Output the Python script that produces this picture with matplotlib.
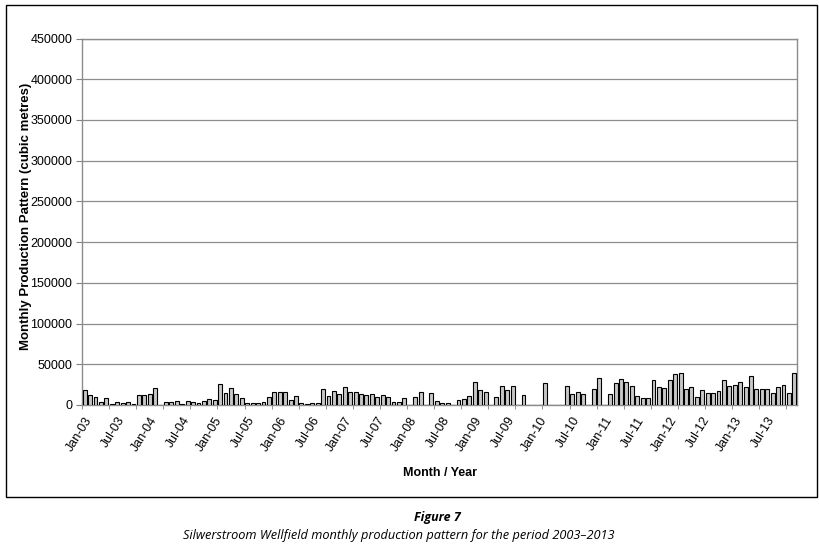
import matplotlib
matplotlib.use('Agg')
import matplotlib.pyplot as plt
import numpy as np
from matplotlib.patches import Rectangle

# monthly production, Jan-03 .. Dec-13 (one row per year)
production = [
    18000, 11700, 9700, 3600, 8900, 1200, 4000, 2000, 4000, 1200, 12000, 12000,   # 2003
    13700, 20500, 0, 4000, 4000, 4400, 1600, 4800, 3200, 2400, 4800, 7200,         # 2004
    6400, 25800, 14900, 21000, 14100, 8000, 2800, 2800, 2800, 4000, 9300, 15700,   # 2005
    15700, 16500, 6400, 10500, 2800, 1600, 2800, 2800, 19700, 10900, 16900, 14100, # 2006
    21800, 16500, 15700, 13700, 12100, 12900, 9700, 12100, 9700, 3600, 3600, 8900, # 2007
    0, 10100, 15700, 0, 14900, 4800, 2400, 2800, 400, 5600, 7200, 10900,           # 2008
    27800, 18100, 16100, 0, 9700, 23800, 18900, 23400, 0, 11700, 0, 0,             # 2009
    0, 27000, 0, 0, 0, 23000, 13700, 16100, 14100, 0, 20200, 33500,                # 2010
    0, 12900, 26600, 31400, 27800, 23800, 10900, 8900, 8900, 30200, 21800, 21000,  # 2011
    30600, 37900, 39100, 19700, 22200, 9700, 18500, 15300, 15300, 17700, 31000, 23800,  # 2012
    25000, 28600, 21800, 35500, 19700, 20200, 20200, 14500, 22200, 24200, 15300, 39500, # 2013
]

tick_labels = ['Jan-03', 'Jul-03', 'Jan-04', 'Jul-04', 'Jan-05', 'Jul-05',
               'Jan-06', 'Jul-06', 'Jan-07', 'Jul-07', 'Jan-08', 'Jul-08',
               'Jan-09', 'Jul-09', 'Jan-10', 'Jul-10', 'Jan-11', 'Jul-11',
               'Jan-12', 'Jul-12', 'Jan-13', 'Jul-13']

plt.rcParams['font.family'] = ['Liberation Sans', 'DejaVu Sans']

fig = plt.figure(figsize=(8.2, 5.47), dpi=100)

# frame around the chart
fig.patches.append(Rectangle((0.0073, 0.0914), 0.989, 0.8995, transform=fig.transFigure,
                             fill=False, edgecolor='black', linewidth=1.0))

ax = fig.add_axes([0.1, 0.2596, 0.872, 0.67])
x = np.arange(len(production))
ax.bar(x, production, width=0.72, color='#c8c8c8', edgecolor='black', linewidth=0.8, zorder=3)

ax.set_xlim(-0.5, len(production) - 0.5)
ax.set_ylim(0, 450000)
ax.set_yticks(np.arange(0, 450001, 50000))
ax.set_yticklabels([str(v) for v in range(0, 450001, 50000)], fontsize=9)
ax.grid(axis='y', color='#8c8c8c', linewidth=0.9, zorder=0)

ax.set_xticks(np.arange(0, len(production), 6))
ax.set_xticklabels(tick_labels, rotation=58, ha='right', rotation_mode='anchor', fontsize=9)
ax.tick_params(axis='x', length=0, pad=7)
ax.set_xticks(np.arange(-0.5, len(production), 5), minor=True)
ax.tick_params(axis='x', which='minor', length=3, color='#808080')
ax.tick_params(axis='y', length=4, color='#808080', pad=3)

for s in ax.spines.values():
    s.set_color('#8c8c8c')
    s.set_linewidth(1.0)

ax.set_ylabel('Monthly Production Pattern (cubic metres)', fontsize=9.5, fontweight='bold')
ax.yaxis.set_label_coords(-0.07, 0.514)
ax.set_xlabel('Month / Year', fontsize=9, fontweight='bold', labelpad=10)

fig.text(0.533, 0.054, 'Figure 7', ha='center', va='center', fontsize=9,
         fontweight='bold', style='italic', family=['Open Sans', 'DejaVu Sans'])
fig.text(0.486, 0.021, 'Silwerstroom Wellfield monthly production pattern for the period 2003\u20132013',
         ha='center', va='center', fontsize=9.2, style='italic', family=['Open Sans', 'DejaVu Sans'])

plt.savefig('out.png', dpi=100)
